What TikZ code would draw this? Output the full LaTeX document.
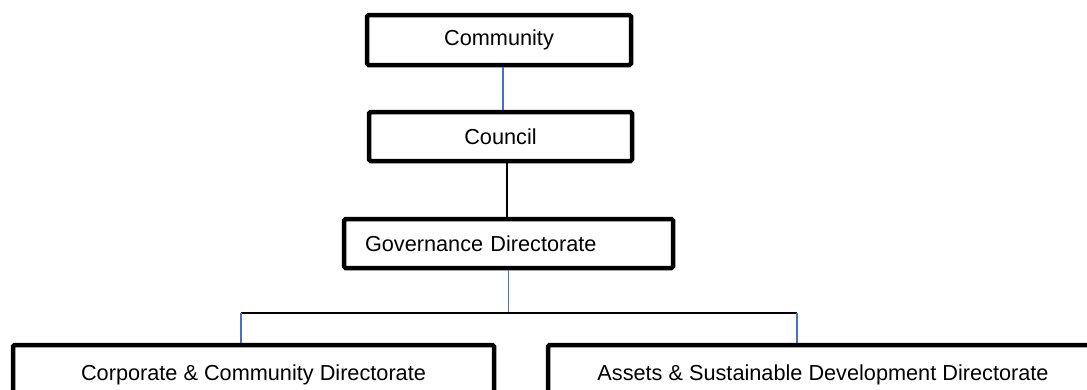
\documentclass[tikz,border=0pt]{standalone}
\usepackage{fontspec}
\setmainfont{Liberation Sans}
\definecolor{linkblue}{RGB}{68,114,196}
\tikzset{
  {unit box/.style} ={draw, line width=4.5pt, rounded corners=1.5pt, inner sep=0,
                  font=\fontsize{21.7}{26}\selectfont},
  {blue link/.style} ={line width=1.4pt, draw=linkblue},
  {black link/.style} ={line width=1.4pt, draw=black},
}
\begin{document}
\begin{tikzpicture}[x=1pt,y=-1pt]
\useasboundingbox (0,0) rectangle (1087,389);
\clip (0,0) rectangle (1087,389);
\node[unit box, minimum width=264pt, minimum height=50pt] (community) at (499,40) {Community};
\node[unit box, minimum width=263pt, minimum height=49pt] (council) at (500.5,136.5) {Council};
\node[unit box, text width=287pt, inner xsep=21pt, align=left,
      minimum height=49pt] (governance) at (508.5,243.5) {\raisebox{-3pt}{Governance Directorate}};
\node[unit box, minimum width=481pt, minimum height=60pt] (corporate) at (253.5,375)
      {Corporate \& Community Directorate};
\node[unit box, minimum width=550pt, minimum height=60pt] (assets) at (823,375)
      {Assets \& Sustainable Development Directorate};
% bus between the directorates
\coordinate (bus) at (509,313);
\coordinate (busleft) at (241,313);
\coordinate (busright) at (797,313);
\draw[blue link] ([xshift=4pt]community.south) -- ([xshift=2.5pt]council.north);
\draw[black link] ([xshift=6.5pt]council.south) -- ([xshift=-1.5pt]governance.north);
\draw[blue link] (governance.south) -- (governance.south |- bus);
\draw[black link] (busleft) -- (busright);
\draw[blue link] (busleft) -- (busleft |- corporate.north);
\draw[blue link] (busright) -- (busright |- assets.north);
\end{tikzpicture}
\end{document}
